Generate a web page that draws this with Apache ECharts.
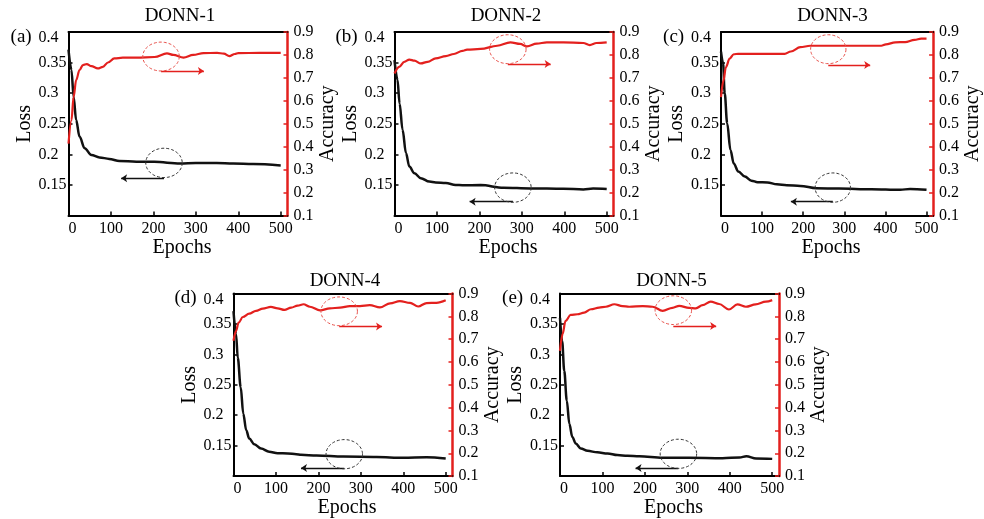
<!DOCTYPE html>
<html><head><meta charset="utf-8">
<script src="https://cdn.jsdelivr.net/npm/echarts@6/dist/echarts.min.js"></script>
<style>html,body{margin:0;padding:0;background:#fff}#c{width:984px;height:519px}</style>
</head><body><div id="c"></div>
<script>
// ---------- data ----------
const titles = ['DONN-1', 'DONN-2', 'DONN-3', 'DONN-4', 'DONN-5'];
const letters = ['(a)', '(b)', '(c)', '(d)', '(e)'];
const xTicks = [0, 100, 200, 300, 400, 500];

const lossA = [[0,0.371],[7,0.338],[12,0.294],[18,0.256],[26,0.229],[38,0.210],[54,0.199],[73,0.195],[96,0.1925],[120,0.189],[160,0.188],[202,0.1877],[263,0.185],[300,0.186],[349,0.186],[388,0.185],[435,0.184],[500,0.1817]];
const accA = [[0,0.413],[7,0.515],[12,0.617],[18,0.69],[26,0.734],[34,0.756],[43,0.760],[54,0.751],[69,0.741],[81,0.748],[93,0.767],[108,0.785],[128,0.788],[160,0.788],[203,0.791],[232,0.807],[247,0.80],[271,0.788],[294,0.80],[318,0.808],[350,0.809],[366,0.806],[379,0.795],[392,0.804],[400,0.808],[450,0.809],[500,0.809]];

const lossB = [[0,0.354],[7,0.322],[12,0.283],[19,0.24],[27,0.202],[35,0.18],[47,0.169],[62,0.161],[82,0.1555],[97,0.154],[121,0.153],[144,0.15],[160,0.1495],[203,0.1497],[257,0.1454],[320,0.1443],[398,0.1437],[445,0.1426],[468,0.144],[500,0.1432]];
const accB = [[0,0.719],[11,0.748],[23,0.770],[35,0.78],[47,0.775],[62,0.763],[78,0.770],[97,0.785],[121,0.795],[140,0.804],[160,0.818],[171,0.823],[203,0.826],[242,0.84],[273,0.855],[296,0.848],[312,0.837],[335,0.849],[359,0.855],[398,0.855],[445,0.852],[460,0.843],[476,0.852],[500,0.855]];

const lossC = [[0,0.368],[5,0.349],[9,0.30],[15,0.251],[23,0.207],[31,0.185],[42,0.172],[58,0.1636],[74,0.157],[89,0.1544],[113,0.154],[136,0.151],[160,0.1495],[193,0.1484],[232,0.1445],[287,0.144],[366,0.143],[436,0.142],[460,0.1434],[500,0.142]];
const accC = [[0,0.616],[6,0.689],[12,0.747],[21,0.784],[31,0.803],[42,0.805],[100,0.805],[155,0.805],[170,0.815],[193,0.834],[217,0.84],[300,0.84],[390,0.84],[401,0.846],[424,0.855],[448,0.856],[471,0.866],[487,0.871],[500,0.871]];

const lossD = [[0,0.371],[6,0.333],[10,0.295],[17,0.246],[23,0.2026],[30,0.1753],[37,0.1617],[49,0.1525],[65,0.1454],[84,0.14],[104,0.1375],[128,0.1372],[148,0.136],[159,0.135],[196,0.1337],[259,0.132],[337,0.1315],[400,0.13],[455,0.131],[500,0.129]];
const accD = [[0,0.693],[6,0.736],[12,0.772],[22,0.797],[37,0.812],[53,0.824],[69,0.834],[88,0.841],[104,0.835],[120,0.828],[136,0.838],[151,0.847],[165,0.853],[180,0.842],[204,0.826],[227,0.835],[251,0.838],[274,0.845],[298,0.845],[321,0.849],[345,0.839],[369,0.857],[392,0.867],[416,0.859],[435,0.843],[455,0.858],[478,0.859],[500,0.87]];

const lossE = [[0,0.36],[5,0.322],[10,0.273],[16,0.224],[22,0.186],[29,0.1644],[37,0.1536],[49,0.1454],[65,0.1415],[88,0.139],[112,0.1372],[135,0.1345],[159,0.1333],[187,0.1327],[242,0.13],[304,0.13],[383,0.1294],[423,0.1306],[439,0.1327],[462,0.129],[500,0.1283]];
const accE = [[0,0.649],[6,0.722],[13,0.78],[25,0.806],[41,0.809],[57,0.816],[73,0.831],[92,0.838],[108,0.842],[128,0.853],[147,0.845],[163,0.842],[195,0.845],[218,0.842],[242,0.824],[265,0.837],[281,0.846],[304,0.837],[320,0.835],[336,0.849],[355,0.864],[375,0.854],[398,0.83],[418,0.852],[438,0.842],[461,0.852],[485,0.864],[500,0.871]];

const lossData = [lossA, lossB, lossC, lossD, lossE];
const accData = [accA, accB, accC, accD, accE];

// annotation ellipses: [centerEpoch, centerValue, radiusEpochs, radiusValue]
const lossEllipses = [[225,0.186,43,0.024],[279,0.1456,43,0.024],[272,0.1456,43,0.024],[261,0.136,43,0.024],[279,0.1366,43,0.024]];
const accEllipses = [[218,0.793,43,0.063],[267,0.825,43,0.063],[261,0.825,43,0.063],[249,0.822,43,0.063],[267,0.827,43,0.063]];
// annotation arrows: [fromEpoch, toEpoch, value]
const lossArrows = [[225,124,0.161],[279,177,0.1225],[272,170,0.1225],[261,159,0.1134],[279,178,0.1134]];
const accArrows = [[218,319,0.73],[267,368,0.76],[261,363,0.756],[249,350,0.755],[267,368,0.758]];

// ---------- layout ----------
const FONT = 'Liberation Serif';
const RED = '#e3201e';
const BLK = '#111111';
const L = [68.5, 394.5, 721, 233.5, 560];
const T = [32, 32, 32, 293.5, 293.5];
const W = 219, H = 183.5;

const chart = echarts.init(document.getElementById('c'), null, {renderer: 'canvas'});

const fmt = v => String(Math.round(v * 100) / 100);
const grids = [], xAxes = [], yAxes = [], series = [], graphics = [];

function ellipseSeries(xi, yi, d, color) {
  return {
    type: 'custom', xAxisIndex: xi, yAxisIndex: yi, silent: true, clip: false, z: 5,
    data: [d], encode: {x: 0, y: 1},
    renderItem: function (params, api) {
      const c = api.coord([api.value(0), api.value(1)]);
      const s = api.size([api.value(2), api.value(3)]);
      const pts = [];
      for (let k = 0; k <= 60; k++) {
        const t = k / 60 * Math.PI * 2;
        pts.push([c[0] + s[0] * Math.cos(t), c[1] + s[1] * Math.sin(t)]);
      }
      return {type: 'polyline', shape: {points: pts},
        style: {stroke: color, fill: null, lineWidth: 1, lineDash: [3, 2]}};
    }
  };
}

for (let i = 0; i < 5; i++) {
  grids.push({left: L[i], top: T[i], width: W, height: H});
  xAxes.push({
    gridIndex: i, type: 'value', min: 0, max: 516, interval: 100, position: 'bottom',
    axisLine: {show: true, onZero: false, lineStyle: {color: '#000', width: 2}},
    axisTick: {show: true, inside: true, length: 4, customValues: xTicks, lineStyle: {color: '#000', width: 1.5}},
    axisLabel: {show: true, margin: 5, color: '#000', fontFamily: FONT, fontSize: 16,
      customValues: xTicks, alignMinLabel: 'left', formatter: v => String(v)},
    splitLine: {show: false},
    name: 'Epochs', nameLocation: 'middle', nameGap: 17,
    nameTextStyle: {color: '#000', fontFamily: FONT, fontSize: 20, padding: [0, 0, 0, 8]}
  });
  xAxes.push({
    gridIndex: i, type: 'value', min: 0, max: 516, position: 'top',
    axisLine: {show: true, onZero: false, lineStyle: {color: '#000', width: 2}},
    axisTick: {show: false}, axisLabel: {show: false}, splitLine: {show: false}
  });
  yAxes.push({
    gridIndex: i, type: 'value', min: 0.1, max: 0.4, interval: 0.05, position: 'left',
    axisLine: {show: true, onZero: false, lineStyle: {color: '#000', width: 2}},
    axisTick: {show: true, inside: true, length: 4, lineStyle: {color: '#000', width: 1.5}},
    axisLabel: {show: true, margin: 30, align: 'left', showMinLabel: false, color: '#000',
      fontFamily: FONT, fontSize: 16,
      formatter: v => (Math.abs(v - 0.4) < 1e-6 ? '{top|0.4}' : fmt(v)),
      rich: {top: {fontFamily: FONT, fontSize: 16, color: '#000', padding: [12, 0, 0, 0]}}},
    splitLine: {show: false},
    name: 'Loss', nameLocation: 'middle', nameGap: 32, nameRotate: 90,
    nameTextStyle: {color: '#000', fontFamily: FONT, fontSize: 20}
  });
  yAxes.push({
    gridIndex: i, type: 'value', min: 0.1, max: 0.9, interval: 0.1, position: 'right',
    axisLine: {show: true, onZero: false, lineStyle: {color: RED, width: 2.5}},
    axisTick: {show: true, inside: true, length: 4, lineStyle: {color: RED, width: 1.5}},
    axisLabel: {show: true, margin: 6, color: '#000', fontFamily: FONT, fontSize: 16, formatter: fmt},
    splitLine: {show: false},
    name: 'Accuracy', nameLocation: 'middle', nameGap: 27, nameRotate: 90,
    nameTextStyle: {color: '#000', fontFamily: FONT, fontSize: 20}
  });

  const la = lossArrows[i], aa = accArrows[i];
  series.push({
    type: 'line', xAxisIndex: 2 * i, yAxisIndex: 2 * i, data: lossData[i],
    showSymbol: false, smooth: 0.35, smoothMonotone: 'x', z: 3,
    lineStyle: {color: BLK, width: 2.5},
    markLine: {silent: true, symbol: ['none', 'arrow'], symbolSize: 6, label: {show: false},
      lineStyle: {color: BLK, width: 1.3, type: 'solid'},
      data: [[{coord: [la[0], la[2]]}, {coord: [la[1], la[2]]}]]}
  });
  series.push({
    type: 'line', xAxisIndex: 2 * i, yAxisIndex: 2 * i + 1, data: accData[i],
    showSymbol: false, smooth: 0.35, smoothMonotone: 'x', z: 4,
    lineStyle: {color: RED, width: 2.2},
    markLine: {silent: true, symbol: ['none', 'arrow'], symbolSize: 6, label: {show: false},
      lineStyle: {color: RED, width: 1.3, type: 'solid'},
      data: [[{coord: [aa[0], aa[2]]}, {coord: [aa[1], aa[2]]}]]}
  });
  series.push(ellipseSeries(2 * i, 2 * i, lossEllipses[i], '#333'));
  series.push(ellipseSeries(2 * i, 2 * i + 1, accEllipses[i], '#e8504a'));

  graphics.push({type: 'text', x: L[i] + W / 2 + 2, y: T[i] - (i < 3 ? 16 : 12.5), silent: true,
    style: {text: titles[i], font: '19px "' + FONT + '"', fill: '#000', align: 'center', verticalAlign: 'middle'}});
  graphics.push({type: 'text', x: L[i] - 36.8, y: T[i] + 5, silent: true,
    style: {text: letters[i], font: '19px "' + FONT + '"', fill: '#000', align: 'right', verticalAlign: 'middle'}});
}

chart.setOption({
  animation: false,
  backgroundColor: '#fff',
  grid: grids, xAxis: xAxes, yAxis: yAxes, series: series, graphic: graphics
});
</script></body></html>
